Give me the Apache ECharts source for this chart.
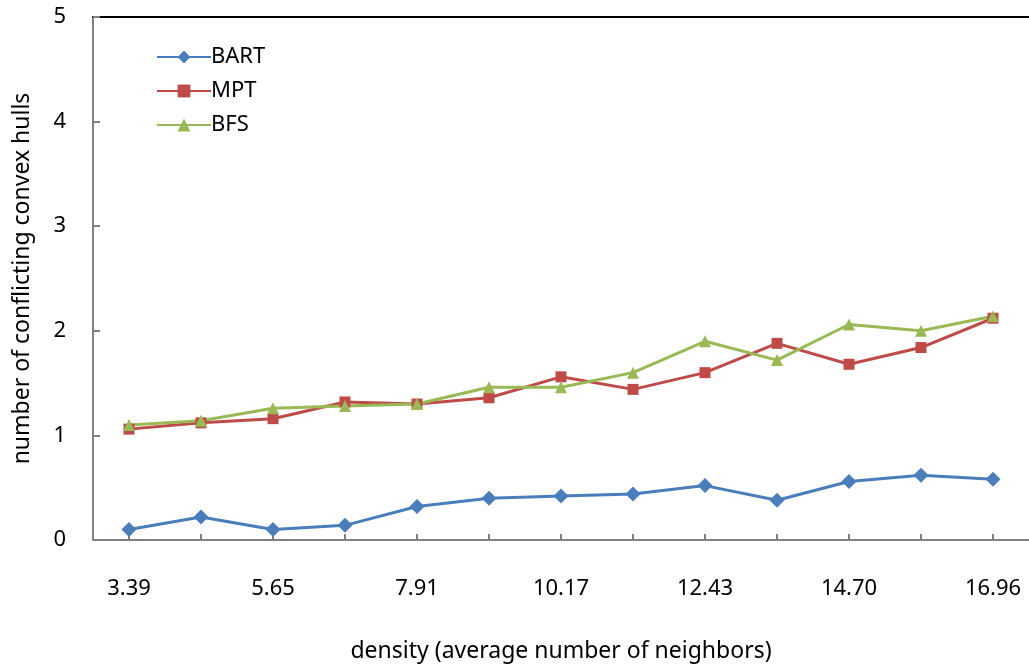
<!DOCTYPE html>
<html>
<head>
<meta charset="utf-8">
<script src="https://cdn.jsdelivr.net/npm/echarts@6/dist/echarts.min.js"></script>
<style>
  html, body { margin: 0; padding: 0; background: #fff; }
  #chart { width: 1029px; height: 668px; }
</style>
</head>
<body>
<div id="chart"></div>
<script>
// density values (average number of neighbors)
const categories = ['3.39', '4.52', '5.65', '6.78', '7.91', '9.04', '10.17', '11.30', '12.43', '13.56', '14.70', '15.83', '16.96'];
// number of conflicting convex hulls per algorithm
const bart = [0.10, 0.22, 0.10, 0.14, 0.32, 0.40, 0.42, 0.44, 0.52, 0.38, 0.56, 0.62, 0.58];
const mpt  = [1.06, 1.12, 1.16, 1.32, 1.30, 1.36, 1.56, 1.44, 1.60, 1.88, 1.68, 1.84, 2.12];
const bfs  = [1.10, 1.14, 1.26, 1.28, 1.30, 1.46, 1.46, 1.60, 1.90, 1.72, 2.06, 2.00, 2.14];
const yTicks = [0, 1, 2, 3, 4, 5];

const FONT = '"Noto Sans", "Open Sans", sans-serif';
const FS = 22;
const chart = echarts.init(document.getElementById('chart'));

function lineSeries(name, data, color, symbol, size) {
  return {
    name, type: 'line', data,
    symbol, symbolSize: size,
    lineStyle: { color, width: 3 },
    itemStyle: { color },
    emphasis: { disabled: true },
    animation: false
  };
}

chart.setOption({
  animation: false,
  grid: { left: 93, top: 17, width: 939, height: 525, containLabel: false },
  legend: {
    orient: 'vertical',
    left: 151, top: 41,
    itemWidth: 54, itemHeight: 16, itemGap: 12,
    textStyle: { fontFamily: FONT, fontSize: FS, color: '#000', padding: [0, 0, 0, -5] },
    data: ['BART', 'MPT', 'BFS']
  },
  xAxis: [
    {
      type: 'category',
      data: categories,
      boundaryGap: true,
      name: 'density (average number of neighbors)',
      nameLocation: 'middle',
      nameGap: 100,
      nameTextStyle: { fontFamily: FONT, fontSize: 23, color: '#000' },
      axisLine: { lineStyle: { color: '#808080', width: 2 } },
      axisTick: { show: true, inside: true, length: 6, alignWithLabel: true, interval: 0, lineStyle: { color: '#808080', width: 2 } },
      axisLabel: { interval: 1, margin: 38, fontFamily: FONT, fontSize: FS, color: '#000' },
      splitLine: { show: false }
    },
    {
      type: 'category',
      position: 'top',
      data: categories,
      axisLine: { lineStyle: { color: '#000', width: 2 } },
      axisTick: { show: false },
      axisLabel: { show: false },
      splitLine: { show: false }
    }
  ],
  yAxis: {
    type: 'value',
    min: yTicks[0], max: yTicks[yTicks.length - 1], interval: 1,
    name: 'number of conflicting convex hulls',
    nameLocation: 'middle',
    nameGap: 59,
    nameTextStyle: { fontFamily: FONT, fontSize: 23, color: '#000' },
    axisLine: { show: true, lineStyle: { color: '#808080', width: 2 } },
    axisTick: { show: true, inside: true, length: 7, lineStyle: { color: '#808080', width: 2 } },
    axisLabel: { margin: 27, fontFamily: FONT, fontSize: FS, color: '#000' },
    splitLine: { show: false }
  },
  series: [
    lineSeries('BART', bart, '#4A7EBB', 'diamond', 15),
    lineSeries('MPT', mpt, '#BE4B48', 'rect', 11),
    lineSeries('BFS', bfs, '#98B954', 'triangle', 12)
  ]
});
</script>
</body>
</html>
